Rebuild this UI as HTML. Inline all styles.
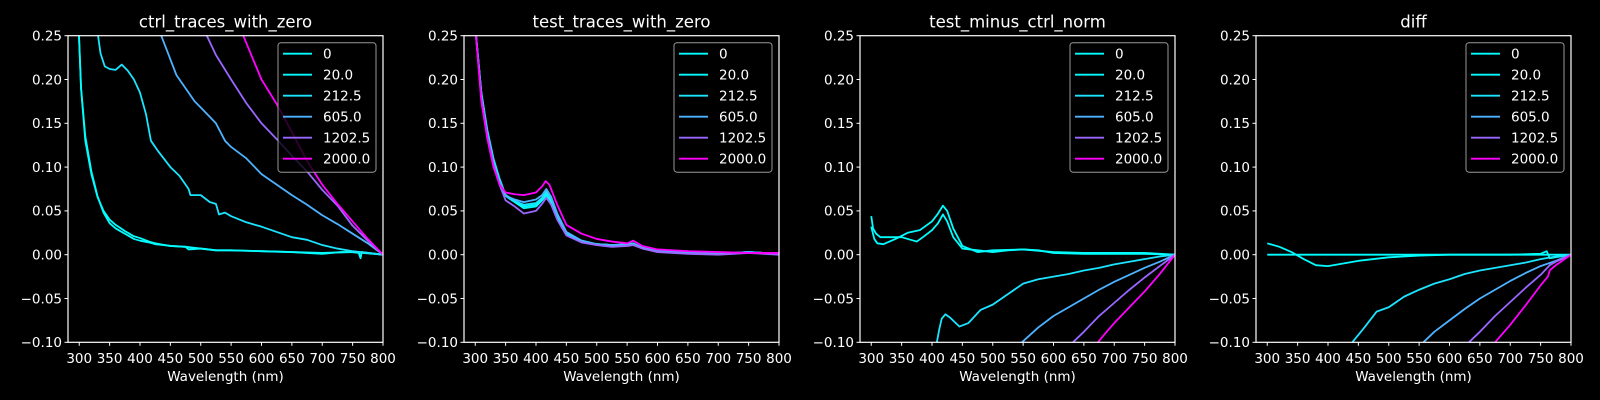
<!DOCTYPE html>
<html><head><meta charset="utf-8">
<style>
html,body{margin:0;padding:0;background:#000;}
svg{display:block;font-family:"DejaVu Sans","Liberation Sans",sans-serif;}
</style></head>
<body>
<svg id="fig" width="1600" height="400" viewBox="0 0 1600 400" xmlns="http://www.w3.org/2000/svg">
<rect width="1600" height="400" fill="#000"/>
</svg>
<script>
// ---- data ----
const seriesLabels = ["0","20.0","212.5","605.0","1202.5","2000.0"];
const seriesColors = ["#00ffff","#03fcff","#1be4ff","#4db2ff","#9966ff","#ff00ff"];
const panelTitles = ["ctrl_traces_with_zero","test_traces_with_zero","test_minus_ctrl_norm","diff"];
const yTicks = [-0.10,-0.05,0.00,0.05,0.10,0.15,0.20,0.25];
const yTickLabels = ["\u22120.10","\u22120.05","0.00","0.05","0.10","0.15","0.20","0.25"];
const xTicks = [300,350,400,450,500,550,600,650,700,750,800];

// panel 1: ctrl_traces_with_zero
const ctrl0 = [[299,0.26],[303,0.19],[310,0.13],[320,0.092],[330,0.066],[340,0.05],[350,0.04],[360,0.034],[375,0.027],[390,0.021],[400,0.019],[415,0.015],[425,0.013],[440,0.011],[450,0.01],[475,0.009],[480,0.006],[500,0.007],[525,0.005],[550,0.005],[600,0.004],[650,0.003],[700,0.001],[730,0.003],[750,0.003],[760,0.002],[763,-0.004],[765,0.003],[800,0]];
const ctrl20 = [[299,0.26],[303,0.19],[310,0.135],[320,0.095],[330,0.067],[340,0.048],[350,0.036],[360,0.03],[375,0.024],[390,0.018],[400,0.016],[415,0.014],[425,0.012],[440,0.011],[450,0.01],[475,0.009],[500,0.007],[525,0.005],[550,0.005],[600,0.004],[650,0.003],[700,0.002],[750,0.003],[800,0]];
const ctrl212 = [[331,0.25],[335,0.23],[342,0.215],[350,0.212],[360,0.211],[370,0.217],[380,0.21],[390,0.2],[400,0.185],[410,0.16],[418,0.13],[430,0.118],[450,0.1],[465,0.09],[480,0.075],[483,0.068],[500,0.068],[515,0.06],[525,0.058],[530,0.046],[540,0.048],[550,0.044],[575,0.037],[600,0.032],[625,0.026],[650,0.02],[675,0.017],[700,0.011],[725,0.007],[750,0.004],[775,0.002],[800,0]];
const ctrl605 = [[435,0.25],[445,0.232],[460,0.205],[475,0.19],[490,0.175],[500,0.168],[525,0.15],[540,0.13],[550,0.123],[575,0.11],[600,0.092],[625,0.08],[650,0.068],[675,0.057],[700,0.045],[725,0.035],[750,0.024],[775,0.013],[800,0]];
const ctrl1202 = [[510,0.25],[525,0.228],[550,0.2],[575,0.173],[600,0.15],[625,0.132],[650,0.113],[675,0.095],[700,0.074],[725,0.056],[750,0.033],[775,0.016],[800,0]];
const ctrl2000 = [[570,0.25],[585,0.225],[600,0.2],[625,0.172],[650,0.14],[675,0.107],[700,0.08],[725,0.058],[750,0.038],[775,0.018],[800,0]];

// panel 2: test_traces_with_zero
const test0 = [[300,0.26],[310,0.185],[320,0.14],[330,0.108],[340,0.085],[350,0.068],[365,0.062],[380,0.055],[400,0.057],[410,0.063],[417,0.07],[425,0.062],[435,0.045],[450,0.025],[475,0.016],[500,0.012],[525,0.011],[550,0.011],[560,0.012],[575,0.008],[600,0.004],[650,0.002],[700,0.001],[750,0.003],[800,0.001]];
const test20 = [[300,0.26],[310,0.185],[320,0.14],[330,0.108],[340,0.085],[350,0.067],[365,0.06],[380,0.053],[400,0.055],[410,0.062],[417,0.068],[425,0.06],[435,0.043],[450,0.024],[475,0.015],[500,0.012],[525,0.011],[550,0.011],[560,0.012],[575,0.008],[600,0.004],[650,0.002],[700,0.001],[750,0.003],[800,0.001]];
const test212 = [[300,0.26],[310,0.185],[320,0.142],[330,0.11],[340,0.087],[350,0.068],[365,0.061],[380,0.057],[400,0.059],[410,0.065],[417,0.072],[425,0.064],[435,0.046],[450,0.025],[475,0.016],[500,0.012],[525,0.011],[550,0.012],[560,0.013],[575,0.008],[600,0.004],[650,0.002],[700,0.001],[750,0.003],[800,0.001]];
const test605 = [[300,0.26],[310,0.18],[320,0.138],[330,0.105],[340,0.083],[350,0.067],[365,0.063],[380,0.06],[400,0.063],[410,0.068],[417,0.075],[425,0.066],[435,0.047],[450,0.026],[475,0.016],[500,0.012],[525,0.011],[550,0.011],[560,0.012],[575,0.008],[600,0.004],[650,0.002],[700,0.001],[750,0.003],[800,0.001]];
const test1202 = [[300,0.26],[310,0.18],[320,0.135],[330,0.103],[340,0.08],[350,0.062],[365,0.055],[380,0.047],[400,0.05],[410,0.058],[417,0.065],[425,0.057],[435,0.04],[450,0.022],[475,0.014],[500,0.011],[525,0.009],[550,0.01],[560,0.011],[575,0.007],[600,0.003],[650,0.001],[700,0.0],[750,0.002],[800,0.0]];
const test2000 = [[300,0.26],[310,0.175],[320,0.132],[330,0.1],[340,0.08],[350,0.071],[365,0.069],[380,0.068],[400,0.071],[410,0.078],[416,0.084],[422,0.08],[435,0.057],[450,0.034],[475,0.024],[500,0.018],[525,0.015],[550,0.013],[560,0.016],[575,0.01],[600,0.006],[650,0.004],[700,0.003],[750,0.002],[800,0.002]];

// panel 3: test_minus_ctrl_norm
const norm0 = [[300,0.044],[303,0.03],[308,0.024],[315,0.02],[330,0.02],[350,0.02],[365,0.017],[375,0.015],[385,0.02],[400,0.028],[410,0.036],[418,0.046],[425,0.038],[435,0.02],[450,0.007],[475,0.005],[500,0.003],[525,0.005],[550,0.006],[575,0.005],[600,0.002],[650,0.001],[700,0.001],[750,0.001],[800,0]];
const norm20 = [[300,0.032],[305,0.018],[310,0.013],[320,0.012],[340,0.018],[360,0.025],[380,0.028],[400,0.038],[410,0.047],[418,0.056],[425,0.05],[435,0.03],[450,0.01],[475,0.003],[500,0.005],[550,0.006],[600,0.003],[650,0.002],[700,0.002],[750,0.002],[800,0]];
const norm212 = [[408,-0.1],[412,-0.085],[416,-0.073],[422,-0.068],[430,-0.072],[445,-0.082],[460,-0.078],[480,-0.063],[500,-0.057],[525,-0.045],[550,-0.033],[575,-0.028],[600,-0.025],[625,-0.022],[650,-0.018],[675,-0.015],[700,-0.011],[725,-0.008],[750,-0.005],[775,-0.002],[800,0]];
const norm605 = [[548,-0.1],[575,-0.083],[600,-0.07],[625,-0.06],[650,-0.05],[675,-0.04],[700,-0.031],[725,-0.023],[750,-0.015],[775,-0.008],[800,0]];
const norm1202 = [[632,-0.1],[650,-0.088],[675,-0.07],[700,-0.055],[725,-0.04],[750,-0.026],[775,-0.013],[800,0]];
const norm2000 = [[673,-0.1],[685,-0.09],[700,-0.078],[725,-0.06],[750,-0.042],[775,-0.022],[800,0]];

// panel 4: diff
const diff0 = [[300,0],[800,0]];
const diff20 = [[300,0.013],[320,0.009],[340,0.003],[360,-0.005],[380,-0.012],[400,-0.013],[425,-0.01],[450,-0.007],[475,-0.005],[500,-0.003],[550,-0.001],[600,0.0],[650,0.0],[700,0.0],[750,0.001],[760,0.004],[765,-0.004],[800,0]];
const diff212 = [[440,-0.1],[460,-0.083],[480,-0.065],[500,-0.06],[525,-0.048],[550,-0.04],[575,-0.033],[600,-0.028],[625,-0.022],[650,-0.018],[675,-0.015],[700,-0.012],[725,-0.009],[750,-0.005],[775,-0.002],[800,0]];
const diff605 = [[557,-0.1],[575,-0.088],[600,-0.075],[625,-0.062],[650,-0.05],[675,-0.04],[700,-0.03],[725,-0.021],[750,-0.013],[775,-0.007],[800,0]];
const diff1202 = [[632,-0.1],[650,-0.088],[675,-0.07],[700,-0.054],[725,-0.038],[750,-0.023],[765,-0.012],[775,-0.008],[800,0]];
const diff2000 = [[675,-0.1],[700,-0.08],[725,-0.058],[750,-0.035],[762,-0.025],[765,-0.018],[775,-0.012],[800,0]];

const panelSeries = [
  [ctrl0,ctrl20,ctrl212,ctrl605,ctrl1202,ctrl2000],
  [test0,test20,test212,test605,test1202,test2000],
  [norm0,norm20,norm212,norm605,norm1202,norm2000],
  [diff0,diff20,diff212,diff605,diff1202,diff2000]
];

// ---- layout ----
const NS = "http://www.w3.org/2000/svg";
const svg = document.getElementById("fig");
const axLefts = [68,464,860,1256];
const axW = 315, axTop = 35.7, axBottom = 342.3;
const xMin = 281.5, xMax = 800, yMin = -0.10, yMax = 0.25;

function mk(tag, attrs, parent){
  const e = document.createElementNS(NS, tag);
  for (const k in attrs) e.setAttribute(k, attrs[k]);
  (parent||svg).appendChild(e);
  return e;
}

panelTitles.forEach((title, p) => {
  const L = axLefts[p];
  const xs = v => L + (v - xMin) / (xMax - xMin) * axW;
  const ys = v => axBottom - (v - yMin) / (yMax - yMin) * (axBottom - axTop);
  const g = mk("g", {});
  
  

  const cp = mk("clipPath", {id: "clip" + p}, g);
  mk("rect", {x: L, y: axTop, width: axW, height: axBottom - axTop}, cp);

  const sg = mk("g", {"clip-path": "url(#clip" + p + ")"}, g);
  panelSeries[p].forEach((pts, i) => {
    const d = pts.map((pt, j) => (j ? "L" : "M") + xs(pt[0]).toFixed(2) + "," + ys(pt[1]).toFixed(2)).join("");
    const path = mk("path", {d: d, fill: "none", stroke: seriesColors[i], "stroke-width": 1.8, "stroke-linejoin": "round"}, sg);
    
    
  });

  const fr = mk("rect", {x: L, y: axTop, width: axW, height: axBottom - axTop, fill: "none", stroke: "#fff", "stroke-width": 1.2}, g);
  
  

  yTicks.forEach((v, i) => {
    const y = ys(v);
    mk("line", {x1: L - 3.5, x2: L, y1: y, y2: y, stroke: "#fff", "stroke-width": 1}, g);
    const t = mk("text", {x: L - 6, y: y + 4.8, fill: "#fff", "font-size": 13.5, "text-anchor": "end"}, g);
    t.textContent = yTickLabels[i];
    
    
  });
  xTicks.forEach(v => {
    const x = xs(v);
    mk("line", {x1: x, x2: x, y1: axBottom, y2: axBottom + 3.5, stroke: "#fff", "stroke-width": 1}, g);
    const t = mk("text", {x: x, y: axBottom + 20.5, fill: "#fff", "font-size": 13.5, "text-anchor": "middle"}, g);
    t.textContent = String(v);
    
    
  });
  const xl = mk("text", {x: L + axW / 2, y: 381, fill: "#fff", "font-size": 13.5, "text-anchor": "middle"}, g);
  xl.textContent = "Wavelength (nm)";
  
  
  const tt = mk("text", {x: L + axW / 2, y: 27.5, fill: "#fff", "font-size": 16.5, "text-anchor": "middle"}, g);
  tt.textContent = title;
  
  

  const lx = L + axW - 7 - 98, ly = 42.7;
  const lg = mk("g", {}, g);
  
  
  mk("rect", {x: lx, y: ly, width: 98, height: 129.5, rx: 3, fill: "#000", "fill-opacity": 0.8, stroke: "#999", "stroke-width": 1}, lg);
  seriesLabels.forEach((lab, i) => {
    const y = 53.7 + i * 21;
    const ln = mk("line", {x1: lx + 5, x2: lx + 34, y1: y, y2: y, stroke: seriesColors[i], "stroke-width": 1.8}, lg);
    
    
    const t = mk("text", {x: lx + 45, y: y + 4.8, fill: "#fff", "font-size": 13.5}, lg);
    t.textContent = lab;
    
    
  });
});
</script>
</body></html>
